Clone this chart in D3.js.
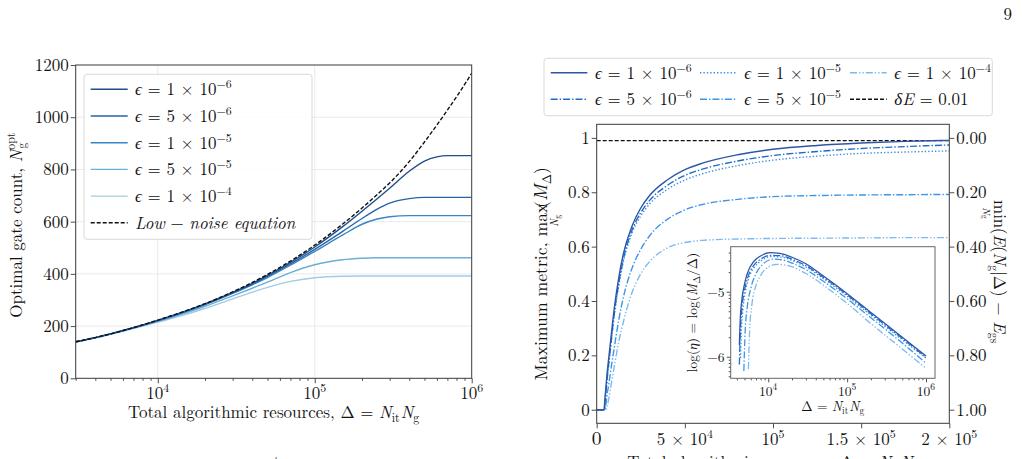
<!DOCTYPE html>
<html>
<head>
<meta charset="utf-8">
<script src="https://cdn.jsdelivr.net/npm/d3@7"></script>
<style>
  body { margin: 0; background: #fff; }
  svg { display: block; }
  text { font-family: 'Latin Modern Roman', 'CMU Serif', 'Liberation Serif', 'DejaVu Serif', serif; fill: #111; }
</style>
</head>
<body>
<script>
// ---- data: left panel (optimal gate count) ----
const gateDelta = [3000, 4000, 5000, 7000, 1e4, 1.5e4, 2e4, 3e4, 4e4, 5e4, 7e4, 1e5, 1.5e5, 2e5, 2.5e5, 3e5, 4e5, 5e5, 6e5, 7e5, 8.5e5, 1e6]
const lowNoise = [140, 156, 170, 194, 223, 258, 286, 331, 367, 398, 449, 510, 590, 652, 704, 748, 830, 905, 970, 1027, 1102, 1168]
const gate1e6 = [140, 156, 170, 194, 222, 257, 285, 329, 364, 394, 444, 503, 580, 640, 688, 728, 793, 832, 848, 853, 853, 853]
const gate5e6 = [140, 156, 170, 194, 221, 256, 283, 327, 361, 390, 438, 494, 562, 612, 648, 671, 688, 693, 693, 693, 693, 693]
const gate1e5 = [140, 156, 170, 193, 220, 255, 282, 325, 358, 386, 433, 486, 548, 590, 610, 619, 623, 623, 623, 623, 623, 623]
const gate5e5 = [139, 155, 169, 192, 218, 250, 276, 316, 345, 368, 405, 435, 454, 460, 462, 462, 462, 462, 462, 462, 462, 462]
const gate1e4 = [139, 154, 168, 190, 215, 244, 268, 304, 330, 348, 371, 385, 391, 392, 392, 392, 392, 392, 392, 392, 392, 392]

const epsMant = ['1', '5', '1', '5', '1']
const epsExp = ['6', '6', '5', '5', '4']

// ---- data: right panel (maximum metric) ----
const metDelta = [0, 4200, 4300, 4600, 5000, 6000, 7000, 8000, 1e4, 1.25e4, 1.5e4, 2e4, 2.5e4, 3e4, 4e4, 5e4, 6e4, 8e4, 1e5, 1.25e5, 1.5e5, 1.75e5, 2e5]
const met1e6 = [0, 0, 0.006, 0.035, 0.065, 0.14, 0.2, 0.26, 0.375, 0.485, 0.57, 0.675, 0.742, 0.788, 0.845, 0.883, 0.907, 0.938, 0.958, 0.972, 0.981, 0.987, 0.991]
const met5e6 = [0, 0, 0, 0.02, 0.05, 0.12, 0.18, 0.24, 0.355, 0.465, 0.55, 0.66, 0.725, 0.77, 0.825, 0.862, 0.885, 0.915, 0.935, 0.95, 0.961, 0.968, 0.974]
const met1e5 = [0, 0, 0, 0.015, 0.045, 0.115, 0.175, 0.235, 0.35, 0.455, 0.54, 0.65, 0.713, 0.757, 0.81, 0.845, 0.868, 0.898, 0.918, 0.933, 0.943, 0.948, 0.952]
const met5e5 = [0, 0, 0, 0, 0.012, 0.06, 0.1, 0.145, 0.23, 0.33, 0.41, 0.52, 0.59, 0.64, 0.7, 0.735, 0.755, 0.774, 0.784, 0.788, 0.79, 0.791, 0.792]
const met1e4 = [0, 0, 0, 0, 0, 0.015, 0.045, 0.085, 0.16, 0.25, 0.32, 0.43, 0.5, 0.545, 0.595, 0.615, 0.623, 0.628, 0.63, 0.631, 0.632, 0.633, 0.633]
const deltaE = 0.01

// ---- data: inset, log(eta) against Delta ----
const inset1e6 = [[4300, -5.82], [4400, -5.45], [4600, -5.15], [5000, -4.88], [5500, -4.7], [6500, -4.54], [8000, -4.45], [10500, -4.4], [14000, -4.41], [2e4, -4.47], [3e4, -4.57], [5e4, -4.76], [1e5, -5.03], [2e5, -5.32], [5e5, -5.7], [1e6, -5.99]]
const inset5e6 = [[4300, -6.12], [4400, -5.7], [4600, -5.3], [5000, -4.98], [5500, -4.78], [6500, -4.6], [8000, -4.5], [11000, -4.44], [15000, -4.45], [2e4, -4.5], [3e4, -4.6], [5e4, -4.78], [1e5, -5.05], [2e5, -5.34], [5e5, -5.72], [1e6, -6.01]]
const inset1e5 = [[4450, -6.02], [4550, -5.65], [4750, -5.3], [5100, -5.02], [5600, -4.81], [6600, -4.63], [8000, -4.53], [11000, -4.46], [15000, -4.47], [2e4, -4.52], [3e4, -4.62], [5e4, -4.8], [1e5, -5.07], [2e5, -5.36], [5e5, -5.74], [1e6, -6.02]]
const inset5e5 = [[4900, -6.22], [5100, -5.6], [5400, -5.25], [6000, -4.95], [7000, -4.72], [8500, -4.58], [11500, -4.5], [15000, -4.51], [2e4, -4.56], [3e4, -4.66], [5e4, -4.84], [1e5, -5.11], [2e5, -5.4], [5e5, -5.79], [1e6, -6.1]]
const inset1e4 = [[5600, -6.19], [5800, -5.6], [6200, -5.2], [7000, -4.9], [8000, -4.75], [1e4, -4.62], [13000, -4.58], [18000, -4.6], [3e4, -4.72], [5e4, -4.9], [1e5, -5.18], [2e5, -5.49], [5e5, -5.88], [1e6, -6.18]]

const leftColors = ['#1f4e8a', '#2565a8', '#3a86c5', '#6baed6', '#a3cbe6']
const rightColors = ['#2e56a6', '#1f6bc5', '#3f8ee0', '#3d95e6', '#7db9ef']
const rightDash = [null, '7,2,1.4,2', '1.4,2', '7,2,1.4,2', '7,2,1.4,2,1.4,2']

const FS = 17
const INK = '#3a3a3a'

const svg = d3.select('body').append('svg').attr('width', 1022).attr('height', 459)
svg.append('rect').attr('width', 1022).attr('height', 459).attr('fill', '#fff')

// text with italic / sub / sup runs
function rich (text, parts, fs) {
  let shift = 0
  parts.forEach(p => {
    const target = (p.off || 0) * fs
    const ts = text.append('tspan')
      .attr('dy', target - shift)
      .attr('font-size', fs * (p.s || 1))
      .attr('font-style', p.i ? 'italic' : 'normal')
      .text(p.t)
    if (p.dx) ts.attr('dx', p.dx)
    shift = target
  })
  return text
}
const sup = t => ({ t, s: 0.7, off: -0.42 })
const sub = (t, i) => ({ t, s: 0.7, off: 0.22, i })
const pow10 = e => [{ t: '10' }, sup(e)]
const epsParts = k => [{ t: 'ϵ', i: true }, { t: ' = ' + epsMant[k] + ' × 10' }, sup('−' + epsExp[k])]

// place a rich text, measuring it so the anchor covers the whole run
function label (g, x, y, parts, fs, anchor, rot) {
  const holder = g.append('g').attr('transform', `translate(${x},${y})` + (rot ? ` rotate(${rot})` : ''))
  const t = holder.append('text').attr('x', 0).attr('y', 0)
  rich(t, parts, fs)
  const bb = t.node().getBBox()
  const a = anchor || 'middle'
  if (a === 'middle') t.attr('x', -bb.x - bb.width / 2)
  else if (a === 'end') t.attr('x', -bb.x - bb.width)
  return t
}

function minorLog (lo, hi) {
  const out = []
  for (let e = Math.floor(Math.log10(lo)); e <= Math.ceil(Math.log10(hi)); e++) {
    for (let k = 2; k < 10; k++) {
      const v = k * 10 ** e
      if (v >= lo && v <= hi) out.push(v)
    }
  }
  return out
}

function styleAxis (g) {
  g.select('.domain').remove()
  g.selectAll('line').attr('stroke', INK).attr('stroke-width', 0.9)
}

const resLabel = [{ t: 'Total algorithmic resources, Δ = ' }, { t: 'N', i: true }, sub('it'), { t: 'N', i: true, dx: 1 }, sub('g')]

// ================= LEFT PANEL =================
const L = { x0: 75.7, x1: 471.7, y0: 65, y1: 378.3 }
const xL = d3.scaleLog().domain([3000, 1e6]).range([L.x0, L.x1])
const yL = d3.scaleLinear().domain([0, 1200]).range([L.y1, L.y0])
const gL = svg.append('g')

gL.append('clipPath').attr('id', 'clipL').append('rect')
  .attr('x', L.x0).attr('y', L.y0).attr('width', L.x1 - L.x0).attr('height', L.y1 - L.y0)

// grid
gL.selectAll('.gy').data([200, 400, 600, 800, 1000]).join('line')
  .attr('x1', L.x0).attr('x2', L.x1).attr('y1', d => yL(d)).attr('y2', d => yL(d))
  .attr('stroke', '#e4e4e4').attr('stroke-width', 0.8)
gL.selectAll('.gx').data([1e4, 1e5]).join('line')
  .attr('x1', d => xL(d)).attr('x2', d => xL(d)).attr('y1', L.y0).attr('y2', L.y1)
  .attr('stroke', '#e4e4e4').attr('stroke-width', 0.8)

const lineL = d3.line().x(d => xL(d[0])).y(d => yL(d[1])).curve(d3.curveMonotoneX)
const gateSeries = [gate1e6, gate5e6, gate1e5, gate5e5, gate1e4]
const plotL = gL.append('g').attr('clip-path', 'url(#clipL)')
gateSeries.slice().reverse().forEach((s, j) => {
  const k = gateSeries.length - 1 - j
  plotL.append('path').attr('d', lineL(gateDelta.map((d, i) => [d, s[i]])))
    .attr('fill', 'none').attr('stroke', leftColors[k]).attr('stroke-width', 1.4)
})
plotL.append('path').attr('d', lineL(gateDelta.map((d, i) => [d, lowNoise[i]])))
  .attr('fill', 'none').attr('stroke', '#111').attr('stroke-width', 1.4).attr('stroke-dasharray', '4,2')

// axes
gL.append('g').attr('transform', `translate(0,${L.y1})`)
  .call(d3.axisBottom(xL).tickValues([1e4, 1e5, 1e6]).tickSize(5).tickFormat('')).call(styleAxis)
gL.append('g').attr('transform', `translate(0,${L.y1})`)
  .call(d3.axisBottom(xL).tickValues(minorLog(3000, 1e6)).tickSize(2.5).tickFormat('')).call(styleAxis)
gL.append('g').attr('transform', `translate(${L.x0},0)`)
  .call(d3.axisLeft(yL).tickValues(d3.range(0, 1201, 200)).tickSize(5).tickFormat('')).call(styleAxis)
gL.append('rect').attr('x', L.x0).attr('y', L.y0).attr('width', L.x1 - L.x0).attr('height', L.y1 - L.y0)
  .attr('fill', 'none').attr('stroke', INK).attr('stroke-width', 1)

d3.range(0, 1201, 200).forEach(v => label(gL, L.x0 - 7, yL(v) + 6, [{ t: String(v) }], FS, 'end'))
;[4, 5, 6].forEach(e => label(gL, xL(10 ** e), 399, pow10(e), FS))

label(gL, (L.x0 + L.x1) / 2, 418, resLabel, FS)
label(gL, 22, (L.y0 + L.y1) / 2, [{ t: 'Optimal gate count, ' }, { t: 'N', i: true }, sup('opt'), { t: 'g', s: 0.7, off: 0.25, dx: -16 }, { t: '\u00a0\u00a0' }], FS, 'middle', -90)

// legend
const legL = gL.append('g')
legL.append('rect').attr('x', 84).attr('y', 74.3).attr('width', 228).attr('height', 165).attr('rx', 3)
  .attr('fill', '#fff').attr('fill-opacity', 0.85).attr('stroke', '#d0d0d0').attr('stroke-width', 0.8)
d3.range(6).forEach(r => {
  const y = 89.3 + r * 26.7
  const ln = legL.append('line').attr('x1', 90.7).attr('x2', 127.7).attr('y1', y).attr('y2', y)
    .attr('stroke-width', 1.4)
  if (r < 5) {
    ln.attr('stroke', leftColors[r])
    label(legL, 135, y + 6, epsParts(r), FS, 'start')
  } else {
    ln.attr('stroke', '#111').attr('stroke-dasharray', '4,2')
    label(legL, 135, y + 6, [{ t: 'Low', i: true }, { t: ' − ' }, { t: 'noise equation', i: true }], FS, 'start')
  }
})

// ================= RIGHT PANEL =================
const R = { x0: 596.7, x1: 949.3, y0: 124.3, y1: 423.3 }
const xR = d3.scaleLinear().domain([0, 2e5]).range([R.x0, R.x1])
const yR = d3.scaleLinear().domain([-0.05, 1.05]).range([R.y1, R.y0])
const yR2 = d3.scaleLinear().domain([1.05, -0.05]).range([R.y1, R.y0])
const gR = svg.append('g')
gR.append('clipPath').attr('id', 'clipR').append('rect')
  .attr('x', R.x0).attr('y', R.y0).attr('width', R.x1 - R.x0).attr('height', R.y1 - R.y0)

const lineR = d3.line().x(d => xR(d[0])).y(d => yR(d[1])).curve(d3.curveMonotoneX)
const metSeries = [met1e6, met5e6, met1e5, met5e5, met1e4]
const plotR = gR.append('g').attr('clip-path', 'url(#clipR)')
plotR.append('line').attr('x1', xR(0)).attr('x2', xR(2e5)).attr('y1', yR(1 - deltaE)).attr('y2', yR(1 - deltaE))
  .attr('stroke', '#111').attr('stroke-width', 1.4).attr('stroke-dasharray', '4,2')
metSeries.slice().reverse().forEach((s, j) => {
  const k = metSeries.length - 1 - j
  const p = plotR.append('path').attr('d', lineR(metDelta.map((d, i) => [d, s[i]])))
    .attr('fill', 'none').attr('stroke', rightColors[k]).attr('stroke-width', 1.4)
  if (rightDash[k]) p.attr('stroke-dasharray', rightDash[k])
})

gR.append('g').attr('transform', `translate(0,${R.y1})`)
  .call(d3.axisBottom(xR).tickValues([0, 5e4, 1e5, 1.5e5, 2e5]).tickSize(5).tickFormat('')).call(styleAxis)
gR.append('g').attr('transform', `translate(${R.x0},0)`)
  .call(d3.axisLeft(yR).tickValues([0, 0.2, 0.4, 0.6, 0.8, 1]).tickSize(5).tickFormat('')).call(styleAxis)
gR.append('g').attr('transform', `translate(${R.x1},0)`)
  .call(d3.axisRight(yR2).tickValues([0, 0.2, 0.4, 0.6, 0.8, 1]).tickSize(5).tickFormat('')).call(styleAxis)
gR.append('rect').attr('x', R.x0).attr('y', R.y0).attr('width', R.x1 - R.x0).attr('height', R.y1 - R.y0)
  .attr('fill', 'none').attr('stroke', INK).attr('stroke-width', 1)

;[0, 0.2, 0.4, 0.6, 0.8, 1].forEach(v => label(gR, R.x0 - 7, yR(v) + 6, [{ t: v === 0 || v === 1 ? String(v) : v.toFixed(1) }], FS, 'end'))
;[0, 0.2, 0.4, 0.6, 0.8, 1].forEach(v => label(gR, R.x1 + 7, yR2(v) + 6, [{ t: v.toFixed(2) }], FS, 'start'))
const xTickR = [[0, [{ t: '0', s: 1.15 }]], [5e4, [{ t: '5 × 10' }, sup('4')]], [1e5, pow10('5')],
  [1.5e5, [{ t: '1.5 × 10' }, sup('5')]], [2e5, [{ t: '2 × 10' }, sup('5')]]]
xTickR.forEach(([v, parts]) => label(gR, xR(v), 445, parts, FS))

label(gR, (R.x0 + R.x1) / 2, 468, resLabel, FS)
label(gR, 547, (R.y0 + R.y1) / 2, [{ t: 'Maximum metric, max' }, { t: 'N', i: true, s: 0.6, off: 0.62, dx: -23 }, { t: 'g', s: 0.45, off: 0.72 },
  { t: '(', dx: 7 }, { t: 'M', i: true, s: 1.05 }, sub('Δ'), { t: ')' }], FS * 1.04, 'middle', -90)
label(gR, 994, (R.y0 + R.y1) / 2 - 2, [{ t: 'min' }, { t: 'N', i: true, s: 0.6, off: 0.62, dx: -21 }, { t: 'g', s: 0.45, off: 0.72 },
  { t: '(', dx: 9 }, { t: 'E', i: true }, { t: '(' }, { t: 'N', i: true }, sub('g'), { t: '|Δ) − ' }, { t: 'E', i: true }, sub('gs')], FS, 'middle', 90)

// right legend
const legR = gR.append('g')
legR.append('rect').attr('x', 544).attr('y', 58.3).attr('width', 448.3).attr('height', 57.4).attr('rx', 3)
  .attr('fill', '#fff').attr('stroke', '#d0d0d0').attr('stroke-width', 0.8)
const legSlots = [[550.7, 72.7], [550.7, 99.3], [700, 72.7], [700, 99.3], [850, 72.7], [850, 99.3]]
legSlots.forEach(([x, y], r) => {
  const ln = legR.append('line').attr('x1', x).attr('x2', x + 36.7).attr('y1', y).attr('y2', y).attr('stroke-width', 1.4)
  if (r < 5) {
    ln.attr('stroke', rightColors[r])
    if (rightDash[r]) ln.attr('stroke-dasharray', rightDash[r])
    label(legR, x + 44.3, y + 6, epsParts(r), FS, 'start')
  } else {
    ln.attr('stroke', '#111').attr('stroke-dasharray', '4,2')
    label(legR, x + 44.3, y + 6, [{ t: 'δE', i: true }, { t: ' = 0.01' }], FS, 'start')
  }
})

// ---- inset ----
const I = { x0: 730.7, x1: 935, y0: 246.7, y1: 378.3 }
const xI = d3.scaleLog().domain([3340, 1.3e6]).range([I.x0, I.x1])
const yI = d3.scaleLinear().domain([-6.332, -4.308]).range([I.y1, I.y0])
const gI = gR.append('g')
gI.append('rect').attr('x', I.x0).attr('y', I.y0).attr('width', I.x1 - I.x0).attr('height', I.y1 - I.y0).attr('fill', '#fff')
gI.append('clipPath').attr('id', 'clipI').append('rect')
  .attr('x', I.x0).attr('y', I.y0).attr('width', I.x1 - I.x0).attr('height', I.y1 - I.y0)
const lineI = d3.line().x(d => xI(d[0])).y(d => yI(d[1])).curve(d3.curveMonotoneX)
const insetSeries = [inset1e6, inset5e6, inset1e5, inset5e5, inset1e4]
const plotI = gI.append('g').attr('clip-path', 'url(#clipI)')
insetSeries.slice().reverse().forEach((s, j) => {
  const k = insetSeries.length - 1 - j
  const p = plotI.append('path').attr('d', lineI(s))
    .attr('fill', 'none').attr('stroke', rightColors[k]).attr('stroke-width', 1.3)
  if (rightDash[k]) p.attr('stroke-dasharray', rightDash[k])
})
const yMinorI = []
;[-7, -6, -5].forEach(e => d3.range(2, 10).forEach(k => {
  const v = e + Math.log10(k)
  if (v > -6.332 && v < -4.308) yMinorI.push(v)
}))
gI.append('g').attr('transform', `translate(0,${I.y1})`)
  .call(d3.axisBottom(xI).tickValues([1e4, 1e5, 1e6]).tickSize(4).tickFormat('')).call(styleAxis)
gI.append('g').attr('transform', `translate(0,${I.y1})`)
  .call(d3.axisBottom(xI).tickValues(minorLog(3340, 1.3e6)).tickSize(2).tickFormat('')).call(styleAxis)
gI.append('g').attr('transform', `translate(${I.x0},0)`)
  .call(d3.axisLeft(yI).tickValues([-6, -5]).tickSize(4).tickFormat('')).call(styleAxis)
gI.append('g').attr('transform', `translate(${I.x0},0)`)
  .call(d3.axisLeft(yI).tickValues(yMinorI).tickSize(2).tickFormat('')).call(styleAxis)
gI.append('rect').attr('x', I.x0).attr('y', I.y0).attr('width', I.x1 - I.x0).attr('height', I.y1 - I.y0)
  .attr('fill', 'none').attr('stroke', '#666').attr('stroke-width', 1)

const FSI = 13.5
;[-6, -5].forEach(v => label(gI, I.x0 - 6, yI(v) + 5, [{ t: '−' + Math.abs(v) }], FSI, 'end'))
;[4, 5, 6].forEach(e => label(gI, xI(10 ** e), 396, pow10(e), FSI))
label(gI, (I.x0 + I.x1) / 2, 411, [{ t: 'Δ = ' }, { t: 'N', i: true }, sub('it'), { t: 'N', i: true, dx: 1 }, sub('g')], FSI)
label(gI, 697, (I.y0 + I.y1) / 2, [{ t: 'log(' }, { t: 'η', i: true }, { t: ') = log(' }, { t: 'M', i: true }, sub('Δ'), { t: '/Δ)' }], FSI, 'middle', -90)

// page number and caption fragment
svg.append('text').attr('x', 1012).attr('y', 20).attr('text-anchor', 'end').attr('font-size', FS).text('9')
svg.append('text').attr('x', 262).attr('y', 464).attr('font-size', 11).attr('font-style', 'italic').text('opt')
</script>
</body>
</html>
